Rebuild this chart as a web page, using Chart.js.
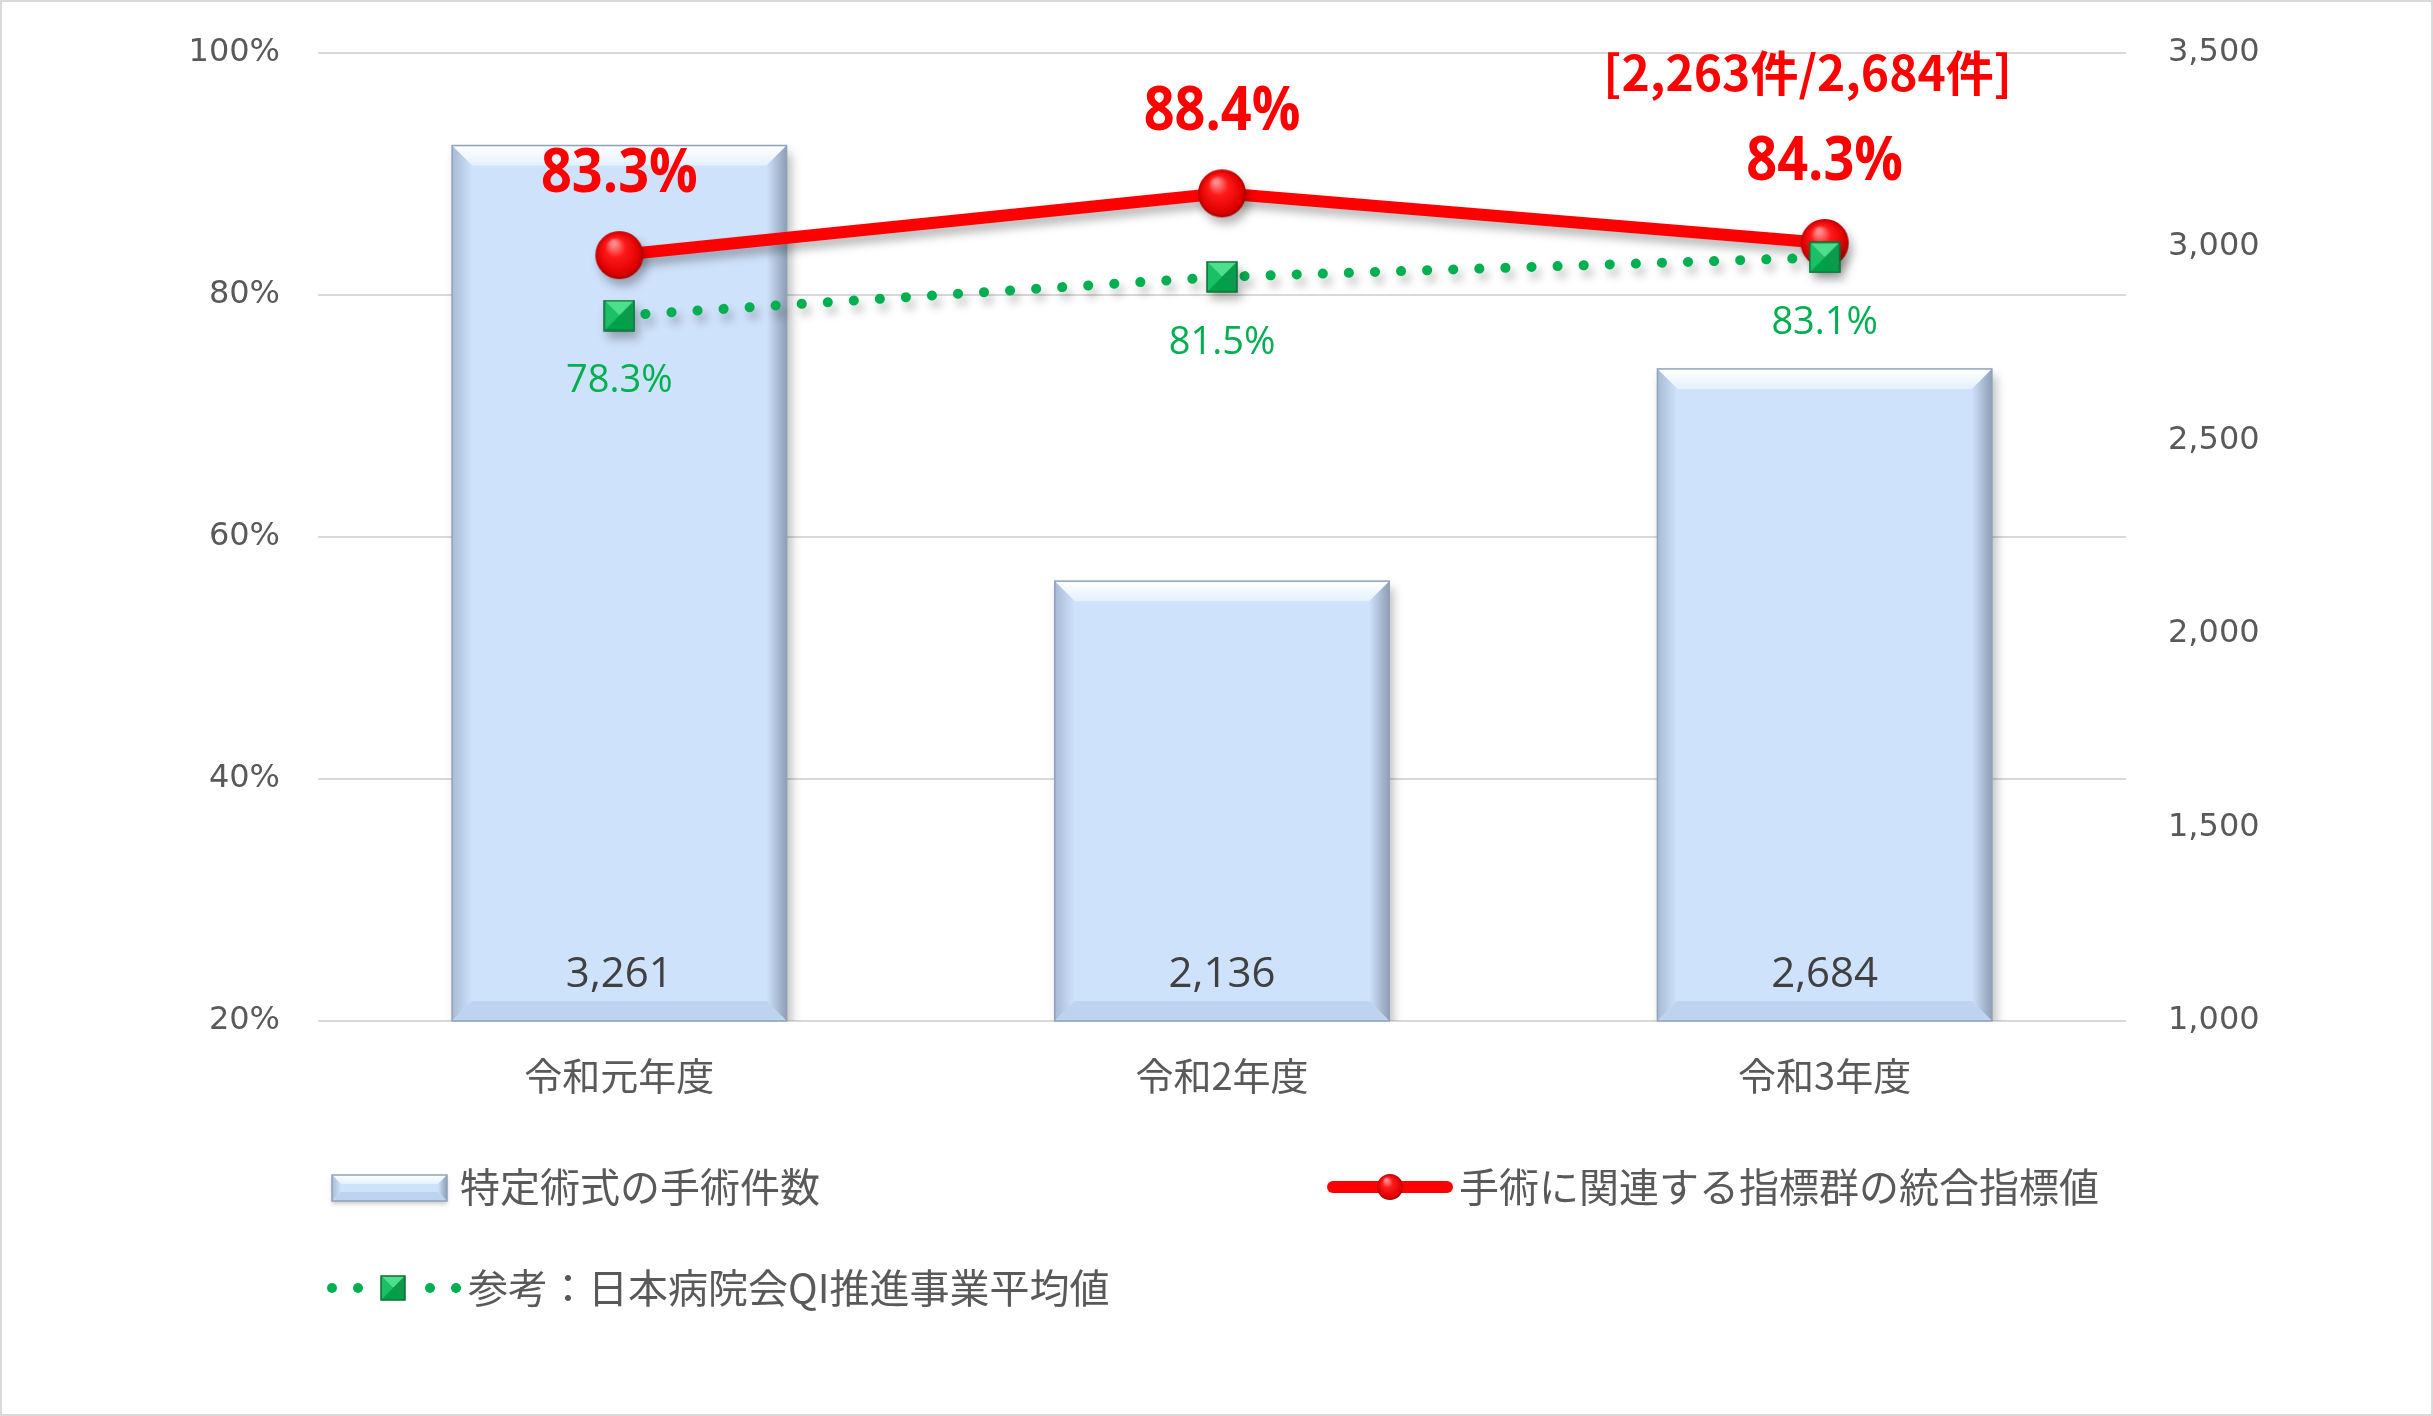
<!DOCTYPE html>
<html lang="ja">
<head>
<meta charset="utf-8">
<title>特定術式の手術件数</title>
<script src="https://cdn.jsdelivr.net/npm/chart.js@4.4.1/dist/chart.umd.min.js"></script>
<style>
  html, body { margin: 0; padding: 0; background: #fff; }
  #wrap { width: 2433px; height: 1416px; }
</style>
</head>
<body>
<div id="wrap"><canvas id="qiChart" width="2433" height="1416"></canvas></div>
<script>
// chart data
const categories = ['令和元年度', '令和2年度', '令和3年度'];
const surgeryCounts = [3261, 2136, 2684];
const integratedIndex = [83.3, 88.4, 84.3];
const qiAverage = [78.3, 81.5, 83.1];
const percentTicks = [20, 40, 60, 80, 100];
const countTicks = [1000, 1500, 2000, 2500, 3000, 3500];
const seriesNames = ['特定術式の手術件数', '手術に関連する指標群の統合指標値', '参考：日本病院会QI推進事業平均値'];
const noteText = '[2,263件/2,684件]';

const JP = '"Noto Sans CJK JP", "Noto Sans", sans-serif';
const RED = '#ff0000';
const GREEN = '#00b050';

// marker images
function makeSphere(r) {
  const c = document.createElement('canvas');
  c.width = c.height = r * 2 + 2;
  const g = c.getContext('2d');
  const grad = g.createRadialGradient(r * 0.8, r * 0.55, r * 0.1, r + 1, r + 1, r);
  grad.addColorStop(0, '#ff8a8a');
  grad.addColorStop(0.35, '#ff1a1a');
  grad.addColorStop(0.85, '#e00000');
  grad.addColorStop(1, '#a80000');
  g.fillStyle = grad;
  g.beginPath();
  g.arc(r + 1, r + 1, r, 0, Math.PI * 2);
  g.fill();
  return c;
}

function makeGem(s) {
  const c = document.createElement('canvas');
  c.width = c.height = s + 2;
  const g = c.getContext('2d');
  const a = 1, b = s + 1, m = (s + 2) / 2, k = s * 0.5;
  g.fillStyle = '#00a048';
  g.fillRect(a, a, s, s);
  // top facet
  g.fillStyle = '#4de08c';
  g.beginPath(); g.moveTo(a, a); g.lineTo(b, a); g.lineTo(m, a + k); g.closePath(); g.fill();
  // side facets
  g.fillStyle = '#1bbf66';
  g.beginPath(); g.moveTo(a, a); g.lineTo(m, a + k); g.lineTo(a, b); g.closePath(); g.fill();
  g.fillStyle = '#0c9a4c';
  g.beginPath(); g.moveTo(b, a); g.lineTo(m, a + k); g.lineTo(b, b); g.closePath(); g.fill();
  g.strokeStyle = '#0a6e36';
  g.lineWidth = 1.5;
  g.strokeRect(a, a, s, s);
  return c;
}

const sphere = makeSphere(24);
const gem = makeGem(30);
const smallSphere = makeSphere(13);
const smallGem = makeGem(24);

function bevelRect(ctx, l, t, r, b, bv) {
  let g = ctx.createLinearGradient(0, t, 0, t + bv);
  g.addColorStop(0, '#ffffff');
  g.addColorStop(1, '#e4f0fe');
  ctx.fillStyle = g;
  ctx.beginPath(); ctx.moveTo(l, t); ctx.lineTo(r, t); ctx.lineTo(r - bv, t + bv); ctx.lineTo(l + bv, t + bv); ctx.closePath(); ctx.fill();

  g = ctx.createLinearGradient(l, 0, l + bv, 0);
  g.addColorStop(0, '#a7bbd6');
  g.addColorStop(1, '#cfe2fb');
  ctx.fillStyle = g;
  ctx.beginPath(); ctx.moveTo(l, t); ctx.lineTo(l + bv, t + bv); ctx.lineTo(l + bv, b - bv); ctx.lineTo(l, b); ctx.closePath(); ctx.fill();

  g = ctx.createLinearGradient(r - bv, 0, r, 0);
  g.addColorStop(0, '#cfe2fb');
  g.addColorStop(1, '#8d9eb5');
  ctx.fillStyle = g;
  ctx.beginPath(); ctx.moveTo(r, t); ctx.lineTo(r - bv, t + bv); ctx.lineTo(r - bv, b - bv); ctx.lineTo(r, b); ctx.closePath(); ctx.fill();

  ctx.fillStyle = '#bed3ef';
  ctx.beginPath(); ctx.moveTo(l, b); ctx.lineTo(l + bv, b - bv); ctx.lineTo(r - bv, b - bv); ctx.lineTo(r, b); ctx.closePath(); ctx.fill();

  ctx.strokeStyle = '#8ea2bc';
  ctx.lineWidth = 1.5;
  ctx.strokeRect(l, t, r - l, b - t);
}

// background, frame, shadows, bevels, labels, legend
const decorPlugin = {
  id: 'decor',
  beforeDraw(chart) {
    const ctx = chart.ctx;
    ctx.save();
    ctx.fillStyle = '#fff';
    ctx.fillRect(0, 0, chart.width, chart.height);
    ctx.strokeStyle = '#d9d9d9';
    ctx.lineWidth = 2;
    ctx.strokeRect(1, 1, chart.width - 2, chart.height - 2);
    ctx.restore();
  },
  beforeDatasetDraw(chart, args) {
    const ctx = chart.ctx;
    ctx.save();
    ctx.shadowColor = 'rgba(0,0,0,0.28)';
    ctx.shadowBlur = 10;
    ctx.shadowOffsetX = 4;
    ctx.shadowOffsetY = 7;
  },
  afterDatasetDraw(chart, args) {
    const ctx = chart.ctx;
    ctx.restore();
    if (args.meta.type === 'bar') {
      args.meta.data.forEach(el => {
        bevelRect(ctx, el.x - el.width / 2, el.y, el.x + el.width / 2, el.base, 20);
      });
    }
  },
  afterDatasetsDraw(chart) {
    const ctx = chart.ctx;
    const area = chart.chartArea;
    ctx.save();
    ctx.textAlign = 'center';
    ctx.textBaseline = 'middle';

    // bar values
    ctx.fillStyle = '#404040';
    ctx.font = '42px "Open Sans", sans-serif';
    chart.getDatasetMeta(0).data.forEach((el, i) => {
      ctx.fillText(surgeryCounts[i].toLocaleString('en-US'), el.x, el.base - 46);
    });

    // integrated index labels
    ctx.fillStyle = RED;
    ctx.font = 'bold 60px "Open Sans", sans-serif';
    chart.getDatasetMeta(1).data.forEach((el, i) => {
      ctx.save();
      ctx.translate(el.x, el.y - 80);
      ctx.scale(0.9, 1);
      ctx.fillText(integratedIndex[i].toFixed(1) + '%', 0, 0);
      ctx.restore();
    });

    // QI average labels
    ctx.fillStyle = GREEN;
    ctx.font = '38px "Open Sans", sans-serif';
    chart.getDatasetMeta(2).data.forEach((el, i) => {
      ctx.fillText(qiAverage[i].toFixed(1) + '%', el.x, el.y + 66);
    });

    // count note
    const nx = chart.scales.x.getPixelForValue(2) - 17;
    ctx.fillStyle = RED;
    ctx.font = 'bold 48px ' + JP;
    ctx.fillText(noteText, nx, area.top + 20);

    // legend
    ctx.textAlign = 'left';
    ctx.fillStyle = '#595959';
    ctx.font = '40px ' + JP;
    const row1 = area.bottom + 166, row2 = area.bottom + 267;
    const c1 = area.left + 14, c2 = area.left + 1009;

    ctx.save();
    ctx.shadowColor = 'rgba(0,0,0,0.2)'; ctx.shadowBlur = 4; ctx.shadowOffsetY = 3;
    ctx.fillStyle = '#cfe2fb';
    ctx.fillRect(c1, row1 - 12, 115, 26);
    ctx.restore();
    bevelRect(ctx, c1, row1 - 12, c1 + 115, row1 + 14, 9);
    ctx.fillStyle = '#595959';
    ctx.fillText(seriesNames[0], c1 + 128, row1);

    ctx.strokeStyle = RED;
    ctx.lineWidth = 12;
    ctx.lineCap = 'round';
    ctx.beginPath(); ctx.moveTo(c2 + 6, row1); ctx.lineTo(c2 + 120, row1); ctx.stroke();
    ctx.drawImage(smallSphere, c2 + 63 - 14, row1 - 14);
    ctx.fillText(seriesNames[1], c2 + 132, row1);

    ctx.fillStyle = GREEN;
    [c1 + 0, c1 + 26, c1 + 98, c1 + 124].forEach(dx => {
      ctx.beginPath(); ctx.arc(dx, row2, 5, 0, Math.PI * 2); ctx.fill();
    });
    ctx.drawImage(smallGem, c1 + 61 - 13, row2 - 13);
    ctx.fillStyle = '#595959';
    ctx.fillText(seriesNames[2], c1 + 136, row2);

    ctx.restore();
  }
};

function fixVertical(width) {
  return scale => {
    scale.width = width;
    scale.paddingTop = 0;
    scale.paddingBottom = 0;
  };
}

new Chart(document.getElementById('qiChart'), {
  data: {
    labels: categories,
    datasets: [
      {
        type: 'bar',
        label: seriesNames[0],
        data: surgeryCounts,
        yAxisID: 'y1',
        base: countTicks[0],
        backgroundColor: '#cfe2fb',
        borderWidth: 0,
        barPercentage: 0.555,
        categoryPercentage: 1,
        order: 3
      },
      {
        type: 'line',
        label: seriesNames[1],
        data: integratedIndex,
        yAxisID: 'y',
        borderColor: RED,
        borderWidth: 12,
        pointStyle: sphere,
        pointRadius: 24,
        order: 2
      },
      {
        type: 'line',
        label: seriesNames[2],
        data: qiAverage,
        yAxisID: 'y',
        borderColor: GREEN,
        borderWidth: 10,
        borderCapStyle: 'round',
        borderDash: [0.1, 26],
        pointStyle: gem,
        pointRadius: 16,
        order: 1
      }
    ]
  },
  options: {
    responsive: false,
    animation: false,
    devicePixelRatio: 1,
    layout: { autoPadding: false, padding: { top: 53, bottom: 315, left: 0, right: 0 } },
    plugins: {
      legend: { display: false },
      tooltip: { enabled: false }
    },
    scales: {
      x: {
        grid: { display: false },
        border: { display: false },
        ticks: { color: '#595959', font: { family: JP, size: 38 }, padding: 24 },
        afterFit(scale) { scale.height = 80; }
      },
      y: {
        position: 'left',
        min: percentTicks[0],
        max: percentTicks[percentTicks.length - 1],
        afterBuildTicks(scale) { scale.ticks = percentTicks.map(v => ({ value: v })); },
        grid: { color: '#d9d9d9', lineWidth: 2, drawTicks: false },
        border: { display: false },
        ticks: {
          color: '#595959',
          font: { family: '"DejaVu Sans", sans-serif', size: 32 },
          padding: 38,
          callback: v => v + '%'
        },
        afterFit: fixVertical(318)
      },
      y1: {
        position: 'right',
        min: countTicks[0],
        max: countTicks[countTicks.length - 1],
        afterBuildTicks(scale) { scale.ticks = countTicks.map(v => ({ value: v })); },
        grid: { display: false, drawTicks: false },
        border: { display: false },
        ticks: {
          color: '#595959',
          font: { family: '"DejaVu Sans", sans-serif', size: 32 },
          padding: 42,
          callback: v => v.toLocaleString('en-US')
        },
        afterFit: fixVertical(307)
      }
    }
  },
  plugins: [decorPlugin]
});
</script>
</body>
</html>
